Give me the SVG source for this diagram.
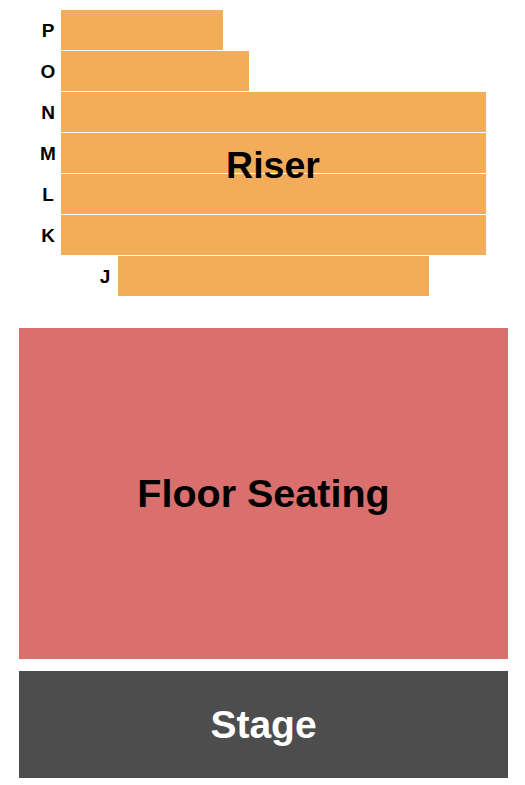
<svg xmlns="http://www.w3.org/2000/svg" width="525" height="785" viewBox="0 0 525 785">
<style>
.row{fill:#F3AD5A}
.lbl{font-family:"Liberation Sans",Arial,sans-serif;font-weight:bold;font-size:19px;fill:#000;text-anchor:middle}
.big{font-family:"Liberation Sans",Arial,sans-serif;font-weight:bold;text-anchor:middle}
</style>
<rect width="525" height="785" fill="#fff"/>
<g id="riser">
<rect class="row" x="61" y="10" width="162" height="40"/>
<rect class="row" x="61" y="51" width="188" height="40"/>
<rect class="row" x="61" y="92" width="425" height="40"/>
<rect class="row" x="61" y="133" width="425" height="40"/>
<rect class="row" x="61" y="174" width="425" height="40"/>
<rect class="row" x="61" y="215" width="425" height="40"/>
<rect class="row" x="118" y="256" width="311" height="40"/>
<text class="lbl" x="48" y="37">P</text>
<text class="lbl" x="48" y="78">O</text>
<text class="lbl" x="48" y="119">N</text>
<text class="lbl" x="48" y="160">M</text>
<text class="lbl" x="48" y="201">L</text>
<text class="lbl" x="48" y="242">K</text>
<text class="lbl" x="105" y="283">J</text>
<text class="big" x="273" y="178" font-size="37.5" fill="#000">Riser</text>
</g>
<g id="floor">
<rect x="19" y="328" width="489" height="331" fill="#D9706E"/>
<text class="big" x="263.5" y="507" font-size="39.5" fill="#000">Floor Seating</text>
</g>
<g id="stage">
<rect x="19" y="671" width="489" height="107" fill="#4D4D4D"/>
<text class="big" x="263.5" y="738" font-size="39" fill="#fff">Stage</text>
</g>
<g id="connectors"/>
</svg>
